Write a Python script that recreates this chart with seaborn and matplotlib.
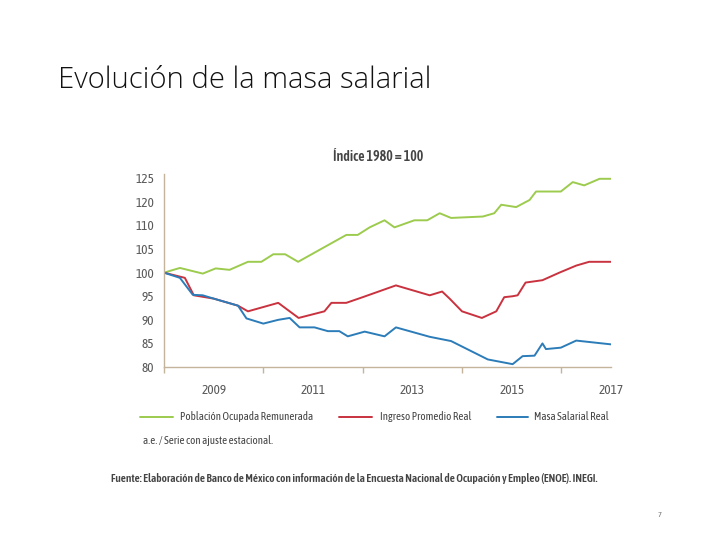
import matplotlib
matplotlib.use("Agg")
import matplotlib.pyplot as plt
import seaborn as sns
import pandas as pd

# ------------------------------------------------------------
# Data (index, positions on the y axis)
# ------------------------------------------------------------
green_x = [2008.0, 2008.32, 2008.78, 2009.04, 2009.32, 2009.69, 2009.96, 2010.2,
           2010.44, 2010.7, 2011.67, 2011.9, 2012.14, 2012.44, 2012.64, 2013.04,
           2013.3, 2013.55, 2013.78, 2014.42, 2014.65, 2014.79, 2015.09, 2015.36,
           2015.49, 2015.99, 2016.23, 2016.46, 2016.77, 2017.0]
green_y = [100.0, 101.0, 99.8, 100.9, 100.6, 102.3, 102.3, 103.9,
           103.9, 102.3, 108.0, 108.0, 109.6, 111.1, 109.6, 111.1,
           111.1, 112.6, 111.6, 111.9, 112.6, 114.4, 113.9, 115.4,
           117.2, 117.2, 119.2, 118.5, 119.9, 119.9]

red_x = [2008.0, 2008.42, 2008.6, 2009.0, 2009.49, 2009.69, 2010.3, 2010.71,
         2011.23, 2011.37, 2011.67, 2012.0, 2012.67, 2013.35, 2013.6, 2013.75,
         2014.0, 2014.4, 2014.69, 2014.85, 2015.02, 2015.12, 2015.28, 2015.62,
         2015.96, 2016.3, 2016.56, 2017.0]
red_y = [100.0, 98.9, 95.2, 94.5, 93.0, 91.8, 93.6, 90.4,
         91.8, 93.6, 93.6, 94.8, 97.3, 95.2, 96.0, 94.5,
         91.8, 90.4, 91.8, 94.8, 95.0, 95.2, 97.9, 98.4,
         100.0, 101.5, 102.3, 102.3]

blue_x = [2008.0, 2008.32, 2008.58, 2008.78, 2009.0, 2009.49, 2009.66, 2010.0,
          2010.3, 2010.53, 2010.73, 2011.03, 2011.3, 2011.53, 2011.7, 2012.04,
          2012.44, 2012.67, 2013.35, 2013.78, 2014.52, 2015.02, 2015.22, 2015.46,
          2015.62, 2015.69, 2015.99, 2016.3, 2017.0]
blue_y = [100.0, 98.9, 95.3, 95.2, 94.5, 93.0, 90.3, 89.2,
          90.0, 90.4, 88.4, 88.4, 87.6, 87.6, 86.5, 87.5,
          86.5, 88.4, 86.4, 85.5, 81.6, 80.6, 82.3, 82.4,
          85.0, 83.8, 84.1, 85.6, 84.8]

series_names = ["Población Ocupada Remunerada", "Ingreso Promedio Real", "Masa Salarial Real"]
series_colors = ["#9ccb4e", "#c9323f", "#2b7cb8"]

# tick labels exactly as printed in the reference (note: no 115)
y_ticks = [80, 85, 90, 95, 100, 105, 110, 115, 120]
y_tick_labels = ["80", "85", "90", "95", "100", "105", "110", "120", "125"]
x_major = [2009, 2011, 2013, 2015, 2017]
x_minor = list(range(2008, 2018))

df = pd.concat([
    pd.DataFrame({"fecha": green_x, "indice": green_y, "serie": series_names[0]}),
    pd.DataFrame({"fecha": red_x, "indice": red_y, "serie": series_names[1]}),
    pd.DataFrame({"fecha": blue_x, "indice": blue_y, "serie": series_names[2]}),
])

sns.set_theme(style="white")
# condensed face, close to the Myriad Condensed of the original
plt.rcParams["font.family"] = ["Asap Condensed", "DejaVu Sans"]

W, H = 720, 540
fig = plt.figure(figsize=(7.2, 5.4), dpi=100)
renderer = fig.canvas.get_renderer()


def fit_text(x_px, y_px, s, width_px, size=10, **kw):
    # place text at pixel coords, scaling the font until it spans width_px
    t = fig.text(x_px / W, 1 - y_px / H, s, fontsize=size, va="center", **kw)
    w = t.get_window_extent(renderer).width
    t.set_fontsize(size * width_px / w)
    return t


ax = fig.add_axes([164 / W, 1 - 367 / H, (611 - 164) / W, (367 - 173.6) / H])

sns.lineplot(data=df, x="fecha", y="indice", hue="serie", palette=series_colors,
             hue_order=series_names, sort=False, linewidth=1.4, ax=ax, legend=False)

spine_color = "#c4b49c"
ax.set_xlim(2008, 2017)
ax.set_ylim(80, 121)
for side in ["top", "right"]:
    ax.spines[side].set_visible(False)
for side in ["left", "bottom"]:
    ax.spines[side].set_color(spine_color)
    ax.spines[side].set_linewidth(1.0)

ax.set_yticks(y_ticks)
ax.set_yticklabels(y_tick_labels)
ax.set_xticks(x_major)
ax.set_xticks(x_minor, minor=True)
ax.tick_params(axis="both", which="both", direction="out", color=spine_color,
               length=4, width=1, labelsize=9.5, labelcolor="#5a5a5a", pad=3)
ax.tick_params(axis="x", which="minor", bottom=True, length=4)
ax.tick_params(axis="x", pad=8)
ax.set_xlabel("")
ax.set_ylabel("")

# slide title
fit_text(58, 80, "Evolución de la masa salarial", 374, size=20,
         family=["Open Sans", "DejaVu Sans"], fontweight="light", color="#111111")

# chart title
fit_text(333, 157, "Índice 1980 = 100", 90, size=10, fontweight="semibold", color="#444444")

# legend: keys in figure pixels, one shared font size fitted on the longest label
legend_keys = [(140, 173), (339, 372), (497, 528)]
legend_text_x = [180, 380, 534]
t0 = fit_text(legend_text_x[0], 417, series_names[0], 135, size=9.5, color="#444444")
legend_size = t0.get_fontsize()
for (x0, x1), tx, name, c in zip(legend_keys, legend_text_x, series_names, series_colors):
    fig.add_artist(plt.Line2D([x0 / W, x1 / W], [1 - 417 / H] * 2, color=c, linewidth=1.4,
                              transform=fig.transFigure))
    if name != series_names[0]:
        fig.text(tx / W, 1 - 417 / H, name, fontsize=legend_size, color="#444444", va="center")

fig.text(143 / W, 1 - 441 / H, "a.e. / Serie con ajuste estacional.", fontsize=legend_size,
         color="#444444", va="center")

fit_text(111, 479,
         "Fuente: Elaboración de Banco de México con información de la Encuesta Nacional "
         "de Ocupación y Empleo (ENOE). INEGI.", 489, size=9, fontweight="semibold",
         color="#444444")

fig.text(660 / W, 1 - 515 / H, "7", fontsize=6, color="#777777", ha="center", va="center")

fig.savefig("out.png", dpi=100)
